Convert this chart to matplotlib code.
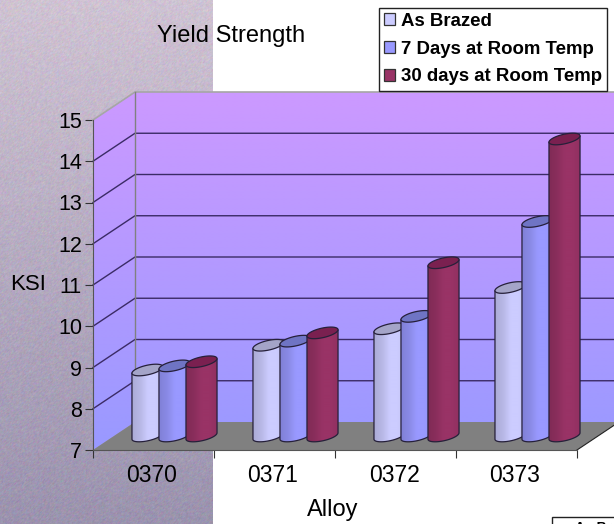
import numpy as np
import matplotlib
matplotlib.use('Agg')
import matplotlib.pyplot as plt
from matplotlib.patches import Polygon, Rectangle
from matplotlib.colors import to_rgb, LinearSegmentedColormap
from matplotlib.transforms import ScaledTranslation

plt.rcParams['font.family'] = ['Liberation Sans', 'DejaVu Sans']

alloys = ['0370', '0371', '0372', '0373']
as_brazed = [8.6, 9.2, 9.6, 10.6]
days_7 = [8.7, 9.3, 9.9, 12.2]
days_30 = [8.8, 9.5, 11.2, 14.2]
series_names = ['As Brazed', '7 Days at Room Temp', '30 days at Room Temp']
series_colors = ['#ccccff', '#9999ff', '#993366']
top_colors = ['#a4a4c8', '#6f74c4', '#7a2050']
y_ticks = [7, 8, 9, 10, 11, 12, 13, 14, 15]

W, H = 614, 524
LEFT, RIGHT, BOTTOM, TOP = 93, 577, 450, 120
DEPTH_X, DEPTH_Y = 42, 28

fig = plt.figure(figsize=(W / 100, H / 100), dpi=100, facecolor='white')

# stone panel behind the left part of the chart
bg = fig.add_axes([0, 0, 213 / W, 1], zorder=0)
rng = np.random.default_rng(4)
grain = rng.normal(0, 1, (H, 213, 3))
grain = (grain + np.roll(grain, 1, 0) + np.roll(grain, 1, 1)) / 3
top_c = np.array(to_rgb('#cfc3d3'))
bot_c = np.array(to_rgb('#9b93ae'))
t = np.linspace(0, 1, H)[:, None, None]
bg.imshow(np.clip(top_c * (1 - t) + bot_c * t + grain * 0.03, 0, 1), aspect='auto')
bg.axis('off')

ax = fig.add_axes([LEFT / W, 1 - BOTTOM / H, (RIGHT - LEFT) / W, (BOTTOM - TOP) / H], zorder=1)
ax.patch.set_alpha(0)
ax.set_xlim(0, 4)
ax.set_ylim(7, 15)
ux = (RIGHT - LEFT) / 4
uy = (BOTTOM - TOP) / 8
dx = DEPTH_X / ux
dy = DEPTH_Y / uy


def gradient_patch(points, cmap, zorder, horizontal=False, extent=None):
    patch = Polygon(points, closed=True, fc='none', ec='none', transform=ax.transData, zorder=zorder)
    patch.set_clip_on(False)
    ax.add_patch(patch)
    pts = np.asarray(points)
    if extent is None:
        extent = (pts[:, 0].min(), pts[:, 0].max(), pts[:, 1].min(), pts[:, 1].max())
    data = np.linspace(0, 1, 256)
    data = data[None, :] if horizontal else data[:, None]
    im = ax.imshow(data, cmap=cmap, extent=extent, origin='lower', aspect='auto',
                   zorder=zorder, interpolation='bilinear')
    # the walls and columns reach past the axes box
    im.set_clip_box(fig.bbox)
    im.set_clip_path(patch)


wall_cmap = LinearSegmentedColormap.from_list('wall', ['#9999ff', '#cc99ff'])
wall_ext = (0, 4 + dx, 7, 15 + dy)

# back wall and side wall
gradient_patch([(dx, 7 + dy), (4 + dx, 7 + dy), (4 + dx, 15 + dy), (dx, 15 + dy)], wall_cmap, 1, extent=wall_ext)
gradient_patch([(0, 7), (dx, 7 + dy), (dx, 15 + dy), (0, 15)], wall_cmap, 1, extent=wall_ext)

# gridlines run along the side wall and across the back
for v in y_ticks[1:-1]:
    ax.plot([0, dx, 4 + dx], [v, v + dy, v + dy], color='#3b2b66', lw=1, zorder=2, clip_on=False)
ax.plot([0, dx, 4 + dx], [15, 15 + dy, 15 + dy], color='#a6a6a6', lw=1.2, zorder=2, clip_on=False)
ax.plot([dx, dx], [7 + dy, 15 + dy], color='#808080', lw=1, zorder=2, clip_on=False)

floor = Polygon([(0, 7), (4, 7), (4 + dx, 7 + dy), (dx, 7 + dy)], closed=True, fc='#808080', ec='none', zorder=3)
floor.set_clip_on(False)
ax.add_patch(floor)
ax.plot([4, 4 + dx], [7, 7 + dy], color='#222222', lw=0.8, zorder=3, clip_on=False)


def cylinder(center, value, color, top_color, zorder):
    # round column standing halfway into the floor depth
    half_w = 13 / ux
    cap_x = 8.5 / ux
    cap_y = 5.8 / uy
    cx = center + dx / 2
    base = 7 + dy / 2
    top = value + dy / 2
    a = np.linspace(0, 2 * np.pi, 90, endpoint=False)
    ex = half_w * np.cos(a) + cap_x * np.sin(a)
    ey = cap_y * np.sin(a)
    i_right = np.argmax(ex)
    i_left = np.argmin(ex)
    # lower half of the outline goes from the left extreme to the right extreme
    idx = np.arange(i_left, i_left + 90) % 90
    idx = idx[:((i_right - i_left) % 90) + 1]
    lower = np.column_stack([cx + ex[idx], base + ey[idx]])
    body = np.vstack([[cx + ex[i_left], top + ey[i_left]], lower, [cx + ex[i_right], top + ey[i_right]]])

    rgb = np.array(to_rgb(color))
    cmap = LinearSegmentedColormap.from_list('cyl', [rgb * 0.84, rgb * 0.9, rgb, rgb, rgb * 0.94], N=32)
    gradient_patch(body, cmap, zorder, horizontal=True)
    ax.add_patch(Polygon(body, closed=True, fc='none', ec='#26203a', lw=0.9, zorder=zorder + 0.2, clip_on=False))
    cap = np.column_stack([cx + ex, top + ey])
    ax.add_patch(Polygon(cap, closed=True, fc=top_color, ec='#26203a', lw=0.9, zorder=zorder + 0.3, clip_on=False))


spacing = 27 / ux
series = [as_brazed, days_7, days_30]
for g in range(len(alloys)):
    for s, values in enumerate(series):
        cylinder(g + 0.5 + (s - 1) * spacing, values[g], series_colors[s], top_colors[s], 4 + s)

ax.set_xlim(0, 4)
ax.set_ylim(7, 15)
ax.set_xticks([0, 1, 2, 3, 4])
ax.set_xticks([0.5, 1.5, 2.5, 3.5], labels=alloys, minor=True)
ax.set_xticklabels([])
ax.set_yticks(y_ticks)
ax.tick_params(axis='y', length=6, width=0.8, color='#333333', labelsize=15.5, pad=2)
ax.tick_params(axis='x', which='major', length=6, width=0.8, color='#333333')
ax.tick_params(axis='x', which='minor', length=0, labelsize=16.5, pad=10)
for label in ax.get_xticklabels(minor=True):
    label.set_transform(label.get_transform() + ScaledTranslation(-1.5 / 100, 0, fig.dpi_scale_trans))
for side in ['top', 'right']:
    ax.spines[side].set_visible(False)
ax.spines['left'].set_color('#555555')
ax.spines['bottom'].set_color('#555555')
ax.spines['left'].set_zorder(3)
ax.spines['bottom'].set_zorder(3)

fig.text(231 / W, 1 - 36 / H, 'Yield Strength', ha='center', va='center', fontsize=17, zorder=5)
fig.text(28 / W, 1 - 285 / H, 'KSI', ha='center', va='center', fontsize=16, zorder=5)
fig.text(333 / W, 1 - 510 / H, 'Alloy', ha='center', va='center', fontsize=17, zorder=5)

# legend box
handles = [Rectangle((0, 0), 1, 1, fc=c, ec='#333333', lw=0.9) for c in series_colors]
leg = fig.legend(handles, series_names, loc='upper left', bbox_to_anchor=(379 / W, 1 - 7.5 / H),
                 frameon=True, fancybox=False, edgecolor='#222222', framealpha=1, borderaxespad=0,
                 prop={'weight': 'bold', 'size': 13.4}, handlelength=0.6, handleheight=0.6,
                 handletextpad=0.28, labelspacing=0.58, borderpad=0.28)
leg.get_frame().set_linewidth(1)
leg.set_zorder(6)

# top edge of the repeated legend, cut off by the bottom of the figure
fig.add_artist(Rectangle((552 / W, -0.02), 80 / W, 1 - 517 / H + 0.02, fc='white', ec='#222222', lw=1,
                         transform=fig.transFigure, zorder=6))
fig.text(575 / W, 1 - 521 / H, 'As Brazed', ha='left', va='top', fontsize=10, fontweight='bold', zorder=7)

fig.savefig('out.png', dpi=100)
